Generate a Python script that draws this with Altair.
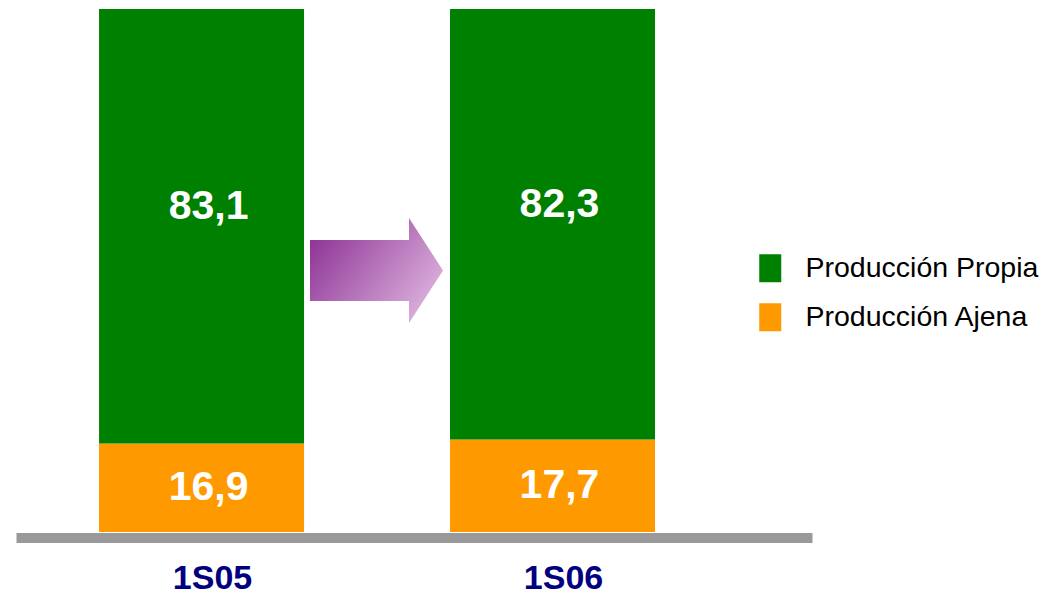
import altair as alt
import pandas as pd

# ---- data ----
periods = ["1S05", "1S06"]
propia = [83.1, 82.3]
ajena = [16.9, 17.7]
series = ["Producción Propia", "Producción Ajena"]
colors = ["#008000", "#FF9900"]

rows = []
for p, vp, va in zip(periods, propia, ajena):
    rows.append({"periodo": p, "serie": series[1], "valor": va, "ord": 0,
                 "label": f"{va:.1f}".replace(".", ","), "mid": va / 2})
    rows.append({"periodo": p, "serie": series[0], "valor": vp, "ord": 1,
                 "label": f"{vp:.1f}".replace(".", ","), "mid": va + vp / 2})
df = pd.DataFrame(rows)

FONT = "Liberation Sans, Arial, sans-serif"

x_enc = alt.X("periodo:N", sort=periods,
              scale=alt.Scale(paddingInner=0.416, paddingOuter=0.342, align=0.346),
              axis=alt.Axis(title=None, labelAngle=0, ticks=False, domain=True,
                            domainColor="#999999", domainWidth=10, offset=5.5,
                            labelFont=FONT, labelFontSize=34, labelFontWeight="bold",
                            labelColor="#000080", labelPadding=24, labelOffset=11))
y_scale = alt.Scale(domain=[0, 100], nice=False, zero=True)

bars = alt.Chart(df).mark_bar(size=205).encode(
    x=x_enc,
    y=alt.Y("valor:Q", stack="zero", scale=y_scale, axis=None),
    color=alt.Color("serie:N", scale=alt.Scale(domain=series, range=colors),
                    legend=alt.Legend(title=None, orient="none", legendX=740, legendY=245,
                                      symbolType="M-0.786,-1 L0.786,-1 L0.786,1 L-0.786,1 Z",
                                      symbolSize=784, symbolStrokeWidth=0,
                                      labelFont=FONT, labelFontSize=28.5, labelColor="#000000",
                                      labelOffset=21, rowPadding=20, padding=0,
                                      labelLimit=400)),
    order=alt.Order("ord:Q"),
)

labels_a = alt.Chart(df[df["ord"] == 0]).mark_text(
    font=FONT, fontSize=41, fontWeight="bold", color="white", baseline="middle", dx=7
).encode(x=alt.X("periodo:N", sort=periods), y=alt.Y("mid:Q", scale=y_scale), text="label:N")

labels_p = alt.Chart(df[df["ord"] == 1]).mark_text(
    font=FONT, fontSize=41, fontWeight="bold", color="white", baseline="middle", dx=7, dy=-19
).encode(x=alt.X("periodo:N", sort=periods), y=alt.Y("mid:Q", scale=y_scale), text="label:N")

arrow_df = pd.DataFrame({"k": ["arrow"]})
arrow = alt.Chart(arrow_df).mark_point(
    shape="M-1,-0.459 L0.489,-0.459 L0.489,-0.789 L1,0 L0.489,0.789 L0.489,0.459 L-1,0.459 Z",
    filled=True, opacity=1, strokeWidth=0, size=17689,
    fill=alt.LinearGradient(gradient="linear",
                            stops=[alt.GradientStop(offset=0, color="#8E3496"),
                                   alt.GradientStop(offset=1, color="#E0B8E0")],
                            x1=0, y1=0.2, x2=1, y2=0.8),
).encode(x=alt.value(360.5), y=alt.value(261.5))

chart = alt.layer(bars, labels_a, labels_p, arrow).properties(
    width=796, height=523,
    padding={"left": 8, "top": 1, "right": 228, "bottom": 64},
    autosize="none",
).configure(background="white").configure_view(strokeWidth=0, stroke="transparent")

chart.save("out.html", embed_options={"renderer": "svg", "actions": False})
